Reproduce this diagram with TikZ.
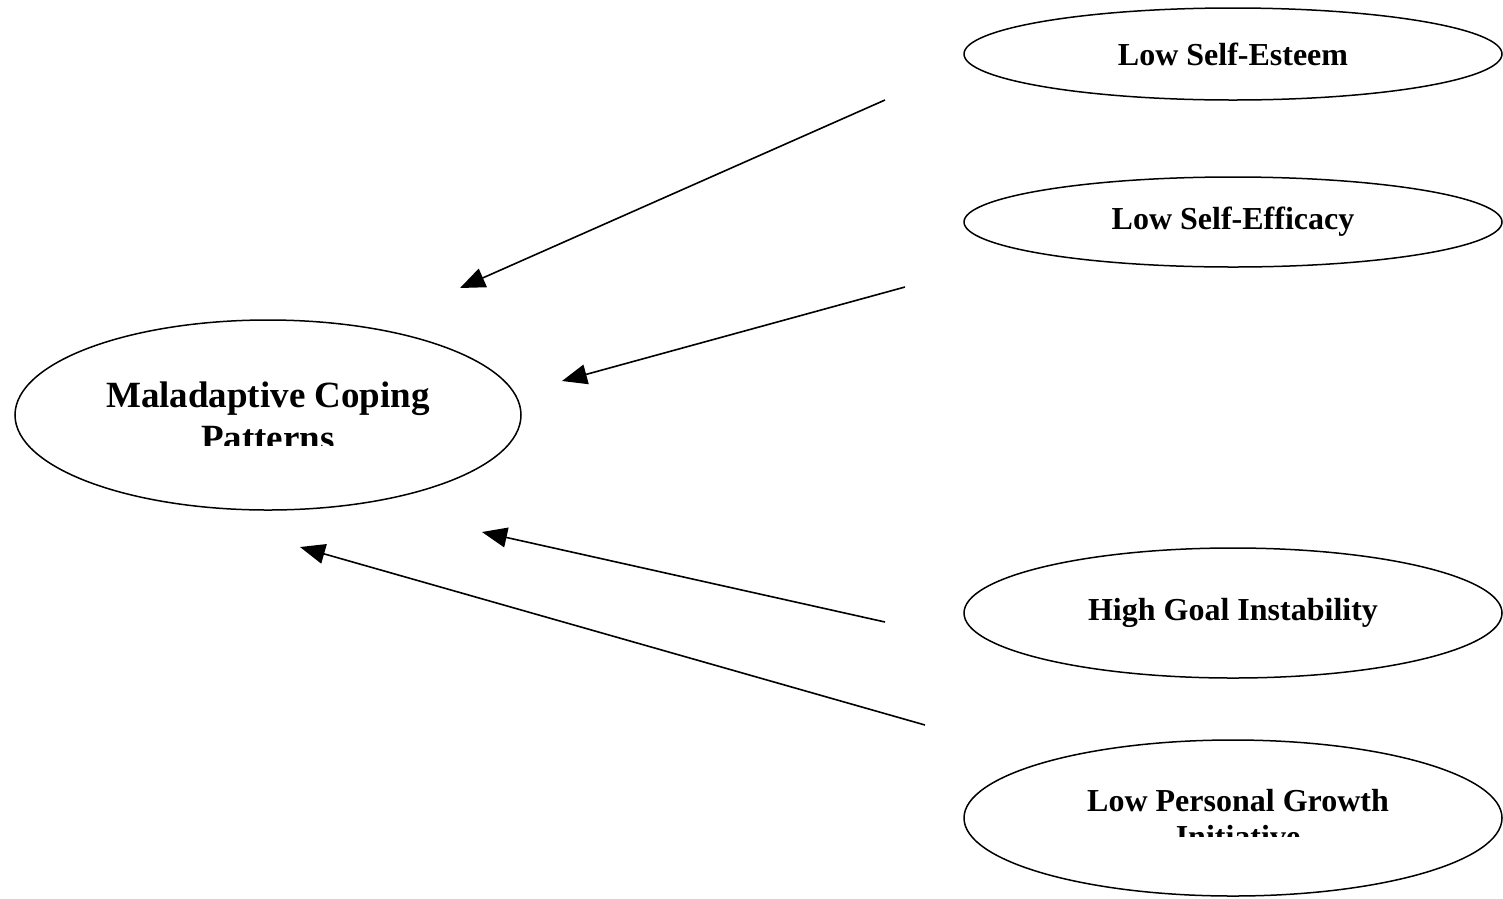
\documentclass[tikz,border=0pt]{standalone}
\usepackage{fontspec}
\setmainfont{Liberation Serif}
\usetikzlibrary{shapes.geometric,arrows.meta}

\begin{document}
\begin{tikzpicture}[x=1pt,y=-1pt,
  factor/.style={draw,ellipse,line width=1.5pt,inner sep=0pt,
    font=\bfseries\fontsize{32}{36}\selectfont},
  factext/.style={align=center,inner sep=0pt},
  effect/.style={line width=1.6pt,-{Triangle[length=25pt,width=20pt]}}]
  \useasboundingbox (0,0) rectangle (1503,898);

  % outcome
  \node[factor,minimum width=506pt,minimum height=190pt] (coping) at (268,415) {};
  \begin{scope}
    \clip (20,340) rectangle (515,445);
    \node[factext,anchor=base,font=\bfseries\fontsize{37}{43}\selectfont]
      (copingtext) at (268,450) {Maladaptive Coping\\Patterns};
  \end{scope}

  % predictors
  \node[factor,minimum width=538pt,minimum height=92pt] (esteem) at (1233,54) {Low Self-Esteem};
  \node[factor,minimum width=538pt,minimum height=90pt] (efficacy) at (1233,222) {Low Self-Efficacy};
  \node[factor,minimum width=538pt,minimum height=130pt] (goal) at (1233,613) {High Goal Instability};
  \node[factor,minimum width=538pt,minimum height=156pt] (growth) at (1233,818) {};
  \begin{scope}
    \clip (990,760) rectangle (1480,836);
    \node[factext,anchor=base,font=\bfseries\fontsize{32}{36}\selectfont]
      (growthtext) at (1238,847) {Low Personal Growth\\Initiative};
  \end{scope}

  % arrow ends
  \coordinate (esteemtail) at (885,100);
  \coordinate (esteemhead) at (460,288);
  \coordinate (efficacytail) at (905,287);
  \coordinate (efficacyhead) at (562,381);
  \coordinate (goaltail) at (885,622);
  \coordinate (goalhead) at (482,532);
  \coordinate (growthtail) at (925,725);
  \coordinate (growthhead) at (300,547);

  \draw[effect] (esteemtail) -- (esteemhead);
  \draw[effect] (efficacytail) -- (efficacyhead);
  \draw[effect] (goaltail) -- (goalhead);
  \draw[effect] (growthtail) -- (growthhead);
\end{tikzpicture}
\end{document}
